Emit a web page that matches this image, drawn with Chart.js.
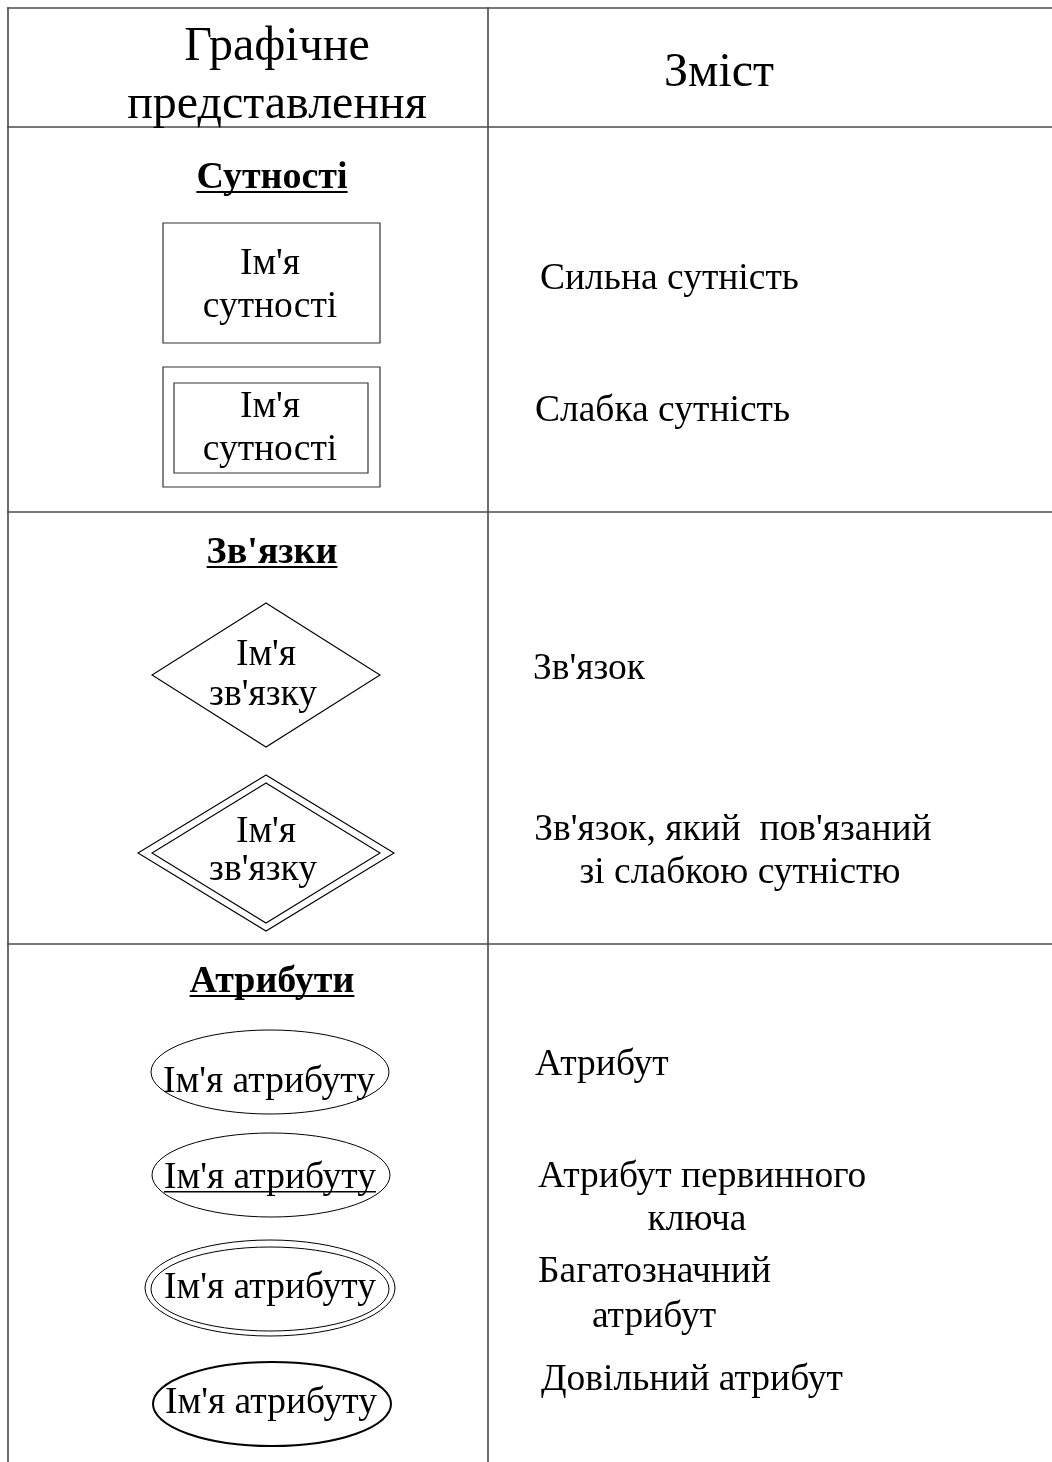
<!DOCTYPE html>
<html>
<head>
<meta charset="utf-8">
<script src="https://cdn.jsdelivr.net/npm/chart.js@4/dist/chart.umd.min.js"></script>
<style>
  html, body { margin: 0; padding: 0; background: #fff; }
  canvas { display: block; }
</style>
</head>
<body>
<canvas id="erChart" width="1052" height="1462"></canvas>
<script>
// Лінії таблиці: [x1, y1, x2, y2]
const gridRules = [
    [8, 8, 1052, 8], [8, 127, 1052, 127], [8, 512, 1052, 512], [8, 944, 1052, 944],
    [8, 8, 8, 1462], [488, 8, 488, 1462]
];

// Заголовок таблиці
const headerLeft = ['Графічне', 'представлення'];
const headerLeftY = [60, 118];
const headerRight = 'Зміст';

// Розділи
const sections = ['Сутності', "Зв'язки", 'Атрибути'];
const sectionY = [188, 563, 992];

// Прямокутники сутностей: [left, top, right, bottom]
const entityBoxes = [[163, 223, 380, 343], [163, 367, 380, 487]];
const entityInner = [null, [174, 383, 368, 473]];

// Ромби зв'язків: [cx, cy, halfW, halfH]
const relDiamonds = [[266, 675, 114, 72], [266, 853, 128, 78]];
const relInner = [null, [266, 853, 114, 70]];

// Еліпси атрибутів: [cx, cy, rx, ry]
const attrEllipses = [[270, 1072, 119, 42], [271, 1175, 119, 42], [270, 1288, 125, 48], [272, 1404, 119, 42]];
const attrInner = [null, null, [270, 1289, 119, 42], null];
const attrStroke = [1, 1, 1, 2];

// Підписи всередині фігур
const shapeLabels = ["Ім'я", 'сутності', "Ім'я", 'сутності', "Ім'я", "зв'язку", "Ім'я", "зв'язку",
    "Ім'я атрибуту", "Ім'я атрибуту", "Ім'я атрибуту", "Ім'я атрибуту"];
const shapeLabelX = [270, 270, 270, 270, 266, 263, 266, 263, 269, 270, 270, 271];
const shapeLabelY = [274, 317, 417, 460, 665, 705, 842, 880, 1092, 1188, 1298, 1413];
const shapeLabelUnderline = [false, false, false, false, false, false, false, false, false, true, false, false];

// Зміст (права колонка)
const descriptions = ['Сильна сутність', 'Слабка сутність', "Зв'язок",
    "Зв'язок, який  пов'язаний", 'зі слабкою сутністю',
    'Атрибут', 'Атрибут первинного', 'ключа', 'Багатозначний', 'атрибут', 'Довільний атрибут'];
const descX = [540, 535, 533, 733, 740, 535, 538, 697, 538, 654, 541];
const descY = [289, 421, 679, 840, 883, 1075, 1187, 1230, 1282, 1327, 1390];
const descAlign = ['left', 'left', 'left', 'center', 'center', 'left', 'left', 'center', 'left', 'center', 'left'];

const serif = '"Liberation Serif", "Times New Roman", serif';

function lineSet(points, color, width) {
    return {
        data: points,
        showLine: true,
        borderColor: color,
        borderWidth: width,
        pointRadius: 0,
        fill: false,
        tension: 0
    };
}

const datasets = [];
gridRules.forEach(r => {
    datasets.push(lineSet([{ x: r[0], y: r[1] }, { x: r[2], y: r[3] }], '#4a4a4a', 1.6));
});
entityBoxes.concat(entityInner.filter(b => b)).forEach(b => {
    datasets.push(lineSet([
        { x: b[0], y: b[1] }, { x: b[2], y: b[1] }, { x: b[2], y: b[3] },
        { x: b[0], y: b[3] }, { x: b[0], y: b[1] }
    ], '#333', 1.2));
});
relDiamonds.concat(relInner.filter(d => d)).forEach(d => {
    datasets.push(lineSet([
        { x: d[0], y: d[1] - d[3] }, { x: d[0] + d[2], y: d[1] }, { x: d[0], y: d[1] + d[3] },
        { x: d[0] - d[2], y: d[1] }, { x: d[0], y: d[1] - d[3] }
    ], '#000', 1.1));
});

const diagramPlugin = {
    id: 'diagram',
    afterDatasetsDraw(chart) {
        const ctx = chart.ctx;
        const xs = chart.scales.x, ys = chart.scales.y;
        const px = v => xs.getPixelForValue(v);
        const py = v => ys.getPixelForValue(v);
        ctx.save();

        // еліпси
        ctx.strokeStyle = '#000';
        const drawEllipse = (e, w) => {
            ctx.lineWidth = w;
            ctx.beginPath();
            ctx.ellipse(px(e[0]), py(e[1]), Math.abs(px(e[0] + e[2]) - px(e[0])), Math.abs(py(e[1] + e[3]) - py(e[1])), 0, 0, Math.PI * 2);
            ctx.stroke();
        };
        attrEllipses.forEach((e, i) => drawEllipse(e, attrStroke[i]));
        attrInner.forEach(e => { if (e) drawEllipse(e, 1); });

        ctx.fillStyle = '#000';
        ctx.textBaseline = 'alphabetic';

        const underline = (x, y, w, align, thick) => {
            const left = align === 'center' ? x - w / 2 : x;
            ctx.fillRect(left, y, w, thick);
        };

        // заголовок
        ctx.font = '48px ' + serif;
        ctx.textAlign = 'center';
        headerLeft.forEach((t, i) => ctx.fillText(t, px(277), py(headerLeftY[i])));
        ctx.fillText(headerRight, px(719), py(86));

        // розділи
        ctx.font = 'bold 38px ' + serif;
        sections.forEach((t, i) => {
            ctx.fillText(t, px(272), py(sectionY[i]));
            const w = ctx.measureText(t).width;
            underline(px(272), py(sectionY[i]) + 3, w, 'center', 2);
        });

        // підписи фігур
        ctx.font = '37.5px ' + serif;
        shapeLabels.forEach((t, i) => {
            ctx.fillText(t, px(shapeLabelX[i]), py(shapeLabelY[i]));
            if (shapeLabelUnderline[i]) {
                const w = ctx.measureText(t).width;
                underline(px(shapeLabelX[i]), py(shapeLabelY[i]) + 3, w, 'center', 1.5);
            }
        });

        // зміст
        ctx.font = '37.5px ' + serif;
        descriptions.forEach((t, i) => {
            ctx.textAlign = descAlign[i];
            ctx.fillText(t, px(descX[i]), py(descY[i]));
        });

        ctx.restore();
    }
};

new Chart(document.getElementById('erChart').getContext('2d'), {
    type: 'scatter',
    data: { datasets: datasets },
    options: {
        responsive: false,
        animation: false,
        devicePixelRatio: 1,
        layout: { padding: 0 },
        plugins: { legend: { display: false }, tooltip: { enabled: false } },
        scales: {
            x: { type: 'linear', min: 0, max: 1052, display: false },
            y: { type: 'linear', min: 0, max: 1462, reverse: true, display: false }
        },
        elements: { line: { borderCapStyle: 'square' } }
    },
    plugins: [diagramPlugin]
});
</script>
</body>
</html>
